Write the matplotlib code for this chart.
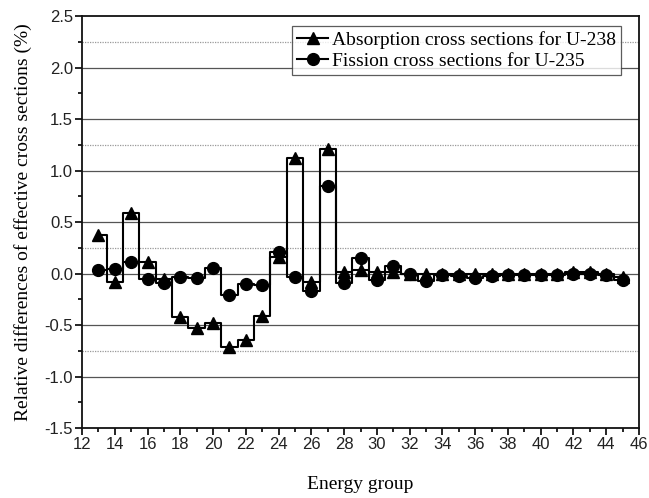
import matplotlib
matplotlib.use("Agg")
import matplotlib.pyplot as plt
import numpy as np

groups = list(range(13, 46))
absorption_u238 = [0.37, -0.08, 0.59, 0.11, -0.05, -0.42, -0.53, -0.48, -0.71, -0.65,
                   -0.41, 0.16, 1.12, -0.08, 1.21, 0.01, 0.03, 0.01, 0.01, 0.00,
                   0.00, 0.00, 0.00, 0.00, 0.00, 0.00, 0.00, 0.00, 0.00, 0.01,
                   0.01, 0.00, -0.03]
fission_u235 = [0.03, 0.04, 0.11, -0.05, -0.09, -0.03, -0.04, 0.05, -0.21, -0.10,
                -0.11, 0.21, -0.03, -0.17, 0.85, -0.09, 0.15, -0.06, 0.07, 0.00,
                -0.07, -0.01, -0.02, -0.04, -0.02, -0.01, -0.01, -0.01, -0.01, 0.00,
                0.00, -0.01, -0.06]
label_abs = "Absorption cross sections for U-238"
label_fis = "Fission cross sections for U-235"
xlabel = "Energy group"
ylabel = "Relative differences of effective cross sections (%)"

serif = ["Liberation Serif", "DejaVu Serif"]
sans = ["Liberation Sans", "DejaVu Sans"]

fig = plt.figure(figsize=(6.49, 4.98), dpi=100)
ax = fig.add_axes([82/649, 70/498, (639-82)/649, (428-16)/498])

ax.set_xlim(12, 46)
ax.set_ylim(-1.5, 2.5)

# grid lines
for yv in np.arange(-1.0, 2.01, 0.5):
    ax.axhline(yv, color="#555555", lw=0.9, zorder=1)
for yv in [2.25, 1.25, 0.25, -0.75]:
    ax.axhline(yv, color="#999999", lw=0.9, ls=(0, (1, 1)), zorder=1)

ax.plot(groups, absorption_u238, drawstyle="steps-mid", color="black", lw=1.5,
        marker="^", markersize=8.5, label=label_abs, zorder=3)
ax.plot(groups, fission_u235, drawstyle="steps-mid", color="black", lw=1.5,
        marker="o", markersize=8.5, label=label_fis, zorder=4)

ax.set_xticks(np.arange(12, 47, 2))
ax.set_xticks(np.arange(13, 46, 2), minor=True)
ax.set_yticks(np.arange(-1.5, 2.51, 0.5))
ax.set_yticks(np.arange(-1.25, 2.5, 0.5), minor=True)
ax.set_yticklabels([f"{v:.1f}" for v in np.arange(-1.5, 2.51, 0.5)])
ax.tick_params(which="major", direction="out", length=5, width=1.2, labelsize=12, pad=1.5)
ax.tick_params(which="minor", direction="out", length=3, width=1.2)
for lab in ax.get_xticklabels() + ax.get_yticklabels():
    lab.set_family(sans)
    lab.set_color("#222222")

for sp in ax.spines.values():
    sp.set_linewidth(1.3)
    sp.set_color("#111111")

ax.set_xlabel(xlabel, family=serif, fontsize=14, labelpad=17)
ax.set_ylabel(ylabel, family=serif, fontsize=14, labelpad=9)

leg = ax.legend(loc="upper right", bbox_to_anchor=(0.968, 0.976), prop={"family": serif, "size": 14},
                frameon=True, fancybox=False, edgecolor="#333333", handlelength=1.6,
                handletextpad=0.2, borderpad=0.25, labelspacing=0.2, borderaxespad=0.0)
leg.get_frame().set_linewidth(0.9)

fig.savefig("out.png", dpi=100, facecolor="white")
